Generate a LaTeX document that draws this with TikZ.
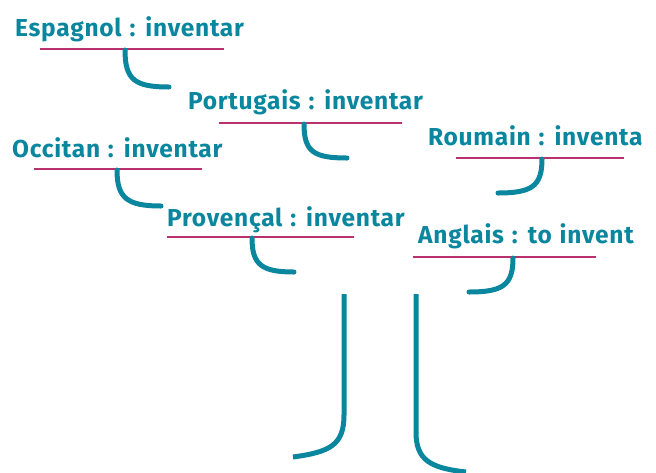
\documentclass[tikz,border=0pt]{standalone}
\usepackage{fontspec}
\setmainfont[LetterSpace=3,WordSpace=1.2]{Fira Sans}
\definecolor{treeteal}{HTML}{0A879E}
\definecolor{linemag}{HTML}{BA3170}
\tikzset{
  lang/.style={anchor=base west,inner sep=0pt,text=treeteal,font=\fontsize{24.5}{29}\selectfont\bfseries},
  uline/.style={draw=linemag,line width=2.6pt},
  branch/.style={draw=treeteal,line width=5pt,line cap=round}
}
\begin{document}
\begin{tikzpicture}[x=1pt,y=-1pt]
  \useasboundingbox (0,0) rectangle (656,472);
  % labels
  \node[lang] (esp) at (15,36) {Espagnol : inventar};
  \node[lang] (por) at (188,109) {Portugais : inventar};
  \node[lang] (rou) at (428,145) {Roumain : inventa};
  \node[lang] (occ) at (12,157) {Occitan : inventar};
  \node[lang] (pro) at (167,226) {Provençal : inventar};
  \node[lang] (ang) at (418,243) {Anglais : to invent};
  % underlines
  \draw[uline] (40,49) -- (224,49);
  \draw[uline] (219,123) -- (402,123);
  \draw[uline] (456,158) -- (624,158);
  \draw[uline] (34,169) -- (202,169);
  \draw[uline] (167,237) -- (354,237);
  \draw[uline] (413,257) -- (596,257);
  % branches
  \draw[branch] (125,50) .. controls (125,80) and (135,87) .. (169,87);
  \draw[branch] (304,124) .. controls (304,152) and (314,158) .. (347,158);
  \draw[branch] (542,159) .. controls (542,186) and (532,193) .. (498,193);
  \draw[branch] (117,170) .. controls (117,198) and (127,206) .. (161,206);
  \draw[branch] (252,238) .. controls (252,265) and (262,272) .. (294,272);
  \draw[branch] (513,258) .. controls (513,285) and (503,292) .. (469,292);
  % trunk
  \draw[branch,line cap=butt] (344,294) -- (344,415) .. controls (344,445) and (330,452) .. (293,457);
  \draw[branch,line cap=butt] (416,294) -- (416,432) .. controls (416,460) and (430,468) .. (466,472);
\end{tikzpicture}
\end{document}
